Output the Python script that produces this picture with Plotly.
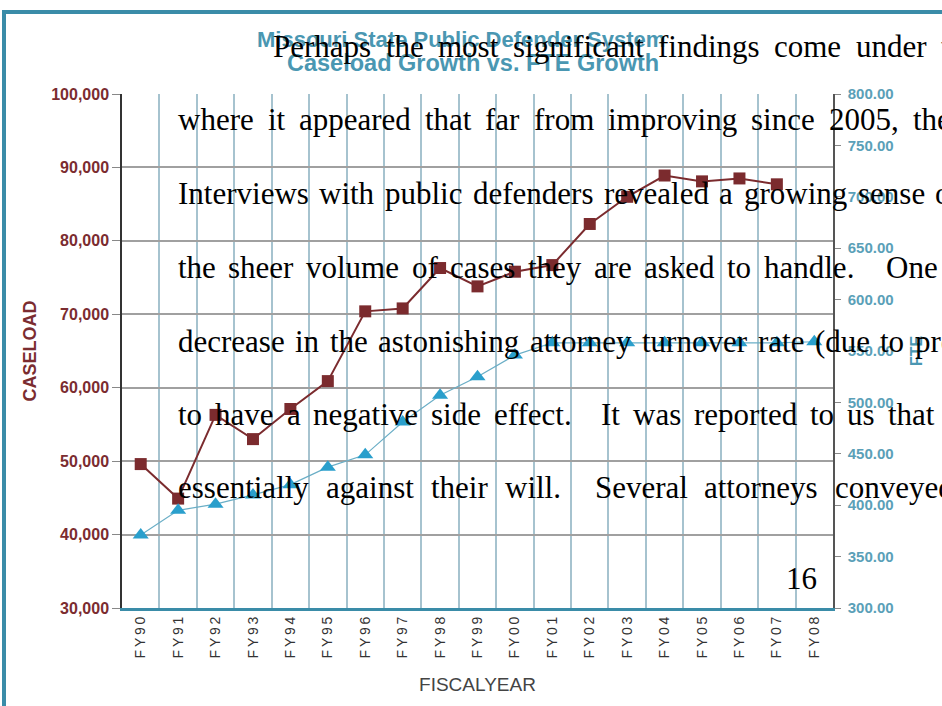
import plotly.graph_objects as go

# ---------------- data ----------------
years = ["FY90", "FY91", "FY92", "FY93", "FY94", "FY95", "FY96", "FY97", "FY98", "FY99",
         "FY00", "FY01", "FY02", "FY03", "FY04", "FY05", "FY06", "FY07", "FY08"]
caseload = [49600, 44900, 56300, 53000, 57100, 60900, 70400, 70800, 76300, 73800,
            75800, 76700, 82300, 86000, 88900, 88100, 88500, 87700, None]
fte = [371, 395, 401, 410, 420, 437, 449, 481, 507, 525,
       546, 558, 558, 558, 558, 558, 558, 558, 559]

title_lines = ["Missouri State Public Defender System", "Caseload Growth vs. FTE Growth"]
left_title = "CASELOAD"
right_title = "FTE"
x_title = "FISCALYEAR"

# overlaid page text (scanned document text on top of the chart)
page_lines = [
    "Perhaps the most significant findings come under the",
    "where it appeared that far from improving since 2005, the",
    "Interviews with public defenders revealed a growing sense of",
    "the sheer volume of cases they are asked to handle.  One",
    "decrease in the astonishing attorney turnover rate (due to pro",
    "to have a negative side effect.  It was reported to us that",
    "essentially against their will.  Several attorneys conveyed",
]
page_number = "16"

# ---------------- layout geometry (pixels) ----------------
W, H = 942, 706
L, R, T, B = 122, 109, 94, 98
PW, PH = W - L - R, H - T - B


def xp(px):
    return (px - L) / PW


def yp(py):
    return (H - B - py) / PH


# Times / Liberation Serif advance widths (per 1000 em)
TW = {' ': 250, ',': 250, '.': 250, '(': 333, ')': 333, '-': 333,
      'A': 722, 'I': 333, 'O': 722, 'P': 556, 'S': 556, 'T': 611,
      'a': 444, 'b': 500, 'c': 444, 'd': 500, 'e': 444, 'f': 333, 'g': 500, 'h': 500,
      'i': 278, 'j': 278, 'k': 500, 'l': 278, 'm': 778, 'n': 500, 'o': 500, 'p': 500,
      'q': 500, 'r': 333, 's': 389, 't': 278, 'u': 500, 'v': 500, 'w': 722, 'x': 500,
      'y': 500, 'z': 444}


def word_w(word, size):
    return sum(TW.get(c, 500) for c in word) * size / 1000.0


TEXT_SIZE = 31
line_params = [  # start x, center y, word gap, sentence gap
    (272, 46, 14.5, 30),
    (177, 119, 14.0, 30),
    (177, 193, 10.5, 30),
    (177, 267, 12.5, 32),
    (177, 341, 10.5, 30),
    (177, 414, 13.0, 28),
    (177, 488, 17.0, 34),
]

fig = go.Figure()

fig.add_trace(go.Scatter(
    x=years, y=fte, yaxis="y2", mode="lines+markers", name="FTE",
    line=dict(color="#6aaec6", width=1.2),
    marker=dict(symbol="triangle-up", size=14, color="#2a9fcc",
                line=dict(color="#2a9fcc", width=0)),
))
fig.add_trace(go.Scatter(
    x=years, y=caseload, yaxis="y", mode="lines+markers", name="Caseload",
    line=dict(color="#7b2b2e", width=2),
    marker=dict(symbol="square", size=12, color="#7b2b2e"),
))

annotations = []
# chart titles
for txt, px_, py, fs in zip(title_lines, [461, 473], [40, 63], [22, 23.5]):
    annotations.append(dict(
        text=txt, x=xp(px_), y=yp(py), xref="paper", yref="paper",
        xanchor="center", yanchor="middle", showarrow=False,
        font=dict(family="Liberation Sans, Arial", size=fs, color="#4a97b2", weight="bold"),
    ))

# page text, word by word (justified)
for line, (sx, cy, gap, sgap) in zip(page_lines, line_params):
    x = sx
    parts = line.split(" ")
    pending = 0
    for w in parts:
        if w == "":
            pending += 1
            continue
        if pending > 1:
            x += sgap - gap
        annotations.append(dict(
            text=w, x=xp(x), y=yp(cy), xref="paper", yref="paper",
            xanchor="left", yanchor="middle", showarrow=False, borderpad=0,
            font=dict(family="Liberation Serif, Times New Roman", size=TEXT_SIZE, color="#000000"),
        ))
        x += word_w(w, TEXT_SIZE) + gap
        pending = 1
annotations.append(dict(
    text=page_number, x=xp(785), y=yp(578), xref="paper", yref="paper",
    xanchor="left", yanchor="middle", showarrow=False, borderpad=0,
    font=dict(family="Liberation Serif, Times New Roman", size=TEXT_SIZE, color="#000000"),
))

# letter-spaced display of the fiscal-year tick labels
spaced = {y: "\u2009".join(y) for y in years}

fig.update_layout(
    width=W, height=H,
    margin=dict(l=L, r=R, t=T, b=B, pad=0),
    paper_bgcolor="#ffffff", plot_bgcolor="#ffffff",
    showlegend=False,
    annotations=annotations,
    shapes=[dict(type="rect", xref="paper", yref="paper",
                 x0=xp(4), x1=xp(1200), y0=yp(900), y1=yp(12),
                 line=dict(color="#3a8ca8", width=4), layer="below")],
    xaxis=dict(
        type="category", range=[-0.5, len(years) - 0.5], tickson="boundaries",
        labelalias=spaced,
        showgrid=True, gridcolor="#a6c3cf", gridwidth=1.5,
        showline=True, linecolor="#3a8ca8", linewidth=3,
        ticks="", tickangle=-90,
        tickfont=dict(family="Liberation Sans, Arial", size=14, color="#333333"),
        title=dict(text=x_title, standoff=21,
                   font=dict(family="Liberation Sans, Arial", size=19, color="#444444")),
        zeroline=False,
    ),
    yaxis=dict(
        range=[30000, 100000], dtick=10000, tickformat=",",
        showgrid=True, gridcolor="#a0a0a0", gridwidth=1.5,
        showline=True, linecolor="#333333", linewidth=1.5,
        ticks="outside", ticklen=8, tickcolor="#888888",
        tickfont=dict(family="Liberation Sans, Arial", size=16, color="#7b2c30", weight="bold"),
        title=dict(text=left_title, standoff=10,
                   font=dict(family="Liberation Sans, Arial", size=18, color="#7b2c30", weight="bold")),
        zeroline=False,
    ),
    yaxis2=dict(
        overlaying="y", side="right",
        range=[300, 800], dtick=50, tickformat=".2f",
        showgrid=False, showline=True, linecolor="#555555", linewidth=1.5,
        ticks="outside", ticklen=6, tickcolor="#888888", ticklabelstandoff=4,
        tickfont=dict(family="Liberation Sans, Arial", size=15, color="#5aa0b8", weight="bold"),
        title=dict(text=right_title, standoff=18,
                   font=dict(family="Liberation Sans, Arial", size=16, color="#4a97b2", weight="bold")),
        zeroline=False,
    ),
)

fig.write_html("out.html", config={"displayModeBar": False},
               post_script="document.body.style.margin='0';document.body.style.overflow='hidden';")
